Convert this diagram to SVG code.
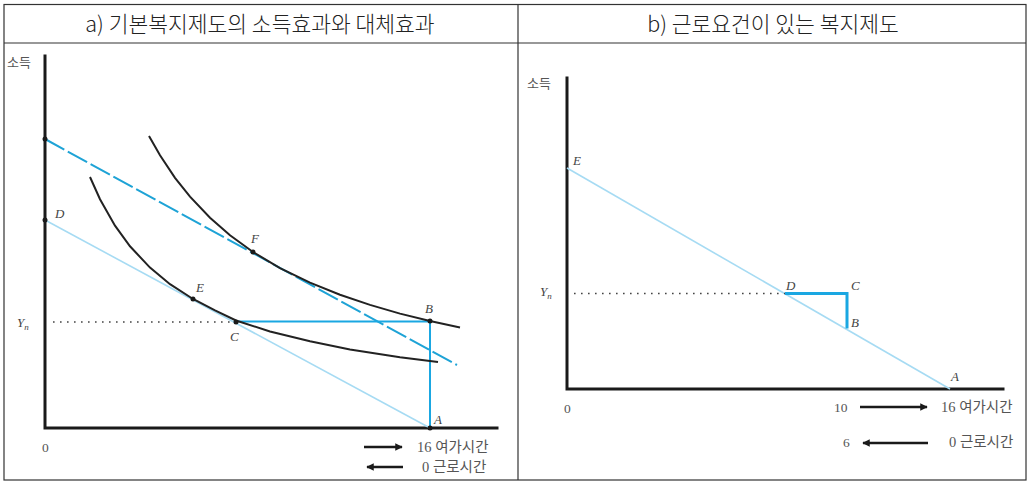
<svg xmlns="http://www.w3.org/2000/svg" width="1029" height="482" viewBox="0 0 1029 482">
<style>
.frame{fill:none;stroke:#333;stroke-width:1.2}
.title{font-family:"Noto Sans CJK KR","Noto Sans",sans-serif;font-size:21.5px;font-weight:300;fill:#222;text-anchor:middle}
.ax{fill:none;stroke:#1a1a1a;stroke-width:3;stroke-linecap:square}
.curve{fill:none;stroke:#222;stroke-width:2}
.bud{fill:none;stroke:#a6dbf3;stroke-width:1.6}
.dash{fill:none;stroke:#1ea3d6;stroke-width:2;stroke-dasharray:22 4}
.blue{fill:none;stroke:#1aa7e2;stroke-width:2}
.blue3{fill:none;stroke:#1aa7e2;stroke-width:3}
.dot{fill:none;stroke:#444;stroke-width:1.6;stroke-dasharray:1.6 5.4}
.pt{fill:#1a1a1a}
.lab{font-family:"Liberation Serif",serif;font-style:italic;font-size:13px;fill:#444}
.num{font-family:"Liberation Serif",serif;font-size:13.5px;fill:#555}
.kr{font-family:"Liberation Serif","Noto Sans CJK KR",serif;font-size:14.5px;fill:#555}
.kr13{font-family:"Noto Sans CJK KR",sans-serif;font-size:13px;fill:#555}
.arr{stroke:#1a1a1a;stroke-width:2.5;fill:none}
</style>
<defs>
<marker id="ah" viewBox="0 0 10 10" refX="9" refY="5" markerWidth="4" markerHeight="3" orient="auto-start-reverse" markerUnits="strokeWidth">
<path d="M0,0 L10,5 L0,10 z" fill="#1a1a1a"/>
</marker>
</defs>
<g id="table">
<rect class="frame" x="4" y="4.5" width="1022" height="475.5"/>
<line class="frame" x1="4" y1="43" x2="1026" y2="43"/>
<line class="frame" x1="518" y1="4.5" x2="518" y2="480"/>
<text class="title" x="260" y="31.5">a) 기본복지제도의 소득효과와 대체효과</text>
<text class="title" x="773" y="31.5">b) 근로요건이 있는 복지제도</text>
</g>
<g id="panel-a">
<g id="axes-a">
<polyline class="ax" points="45,56 45,428 497,428"/>
<text class="kr13" x="7" y="67">소득</text>
<text class="num" x="42" y="452">0</text>
<text class="lab" x="17" y="327">Y<tspan font-size="9" dy="3">n</tspan></text>
</g>
<g id="connectors-a">
<line class="bud" x1="45" y1="220" x2="430" y2="428"/>
<line class="dash" x1="45" y1="139" x2="457" y2="365"/>
<line class="dot" x1="53" y1="322" x2="236" y2="322"/>
<polyline class="blue" points="236,321.5 430,321.5 430,428"/>
<path class="curve" d="M149,136 L160,155.3 L175,177.8 L190,196.7 L210,217.8 L230,235.3 L253,252 L280,268.1 L310,282.7 L340,294.8 L370,304.9 L400,313.6 L430,321 L460,327.4"/>
<path class="curve" d="M90,177 L100,199.2 L115,225.7 L130,246.3 L150,267.6 L170,284.2 L193,299 L215,310.4 L236,320.5 L270,331.5 L310,341.3 L350,349.4 L400,357.2 L438,362"/>
<line class="arr" x1="364" y1="447" x2="402" y2="447" marker-end="url(#ah)"/>
<line class="arr" x1="367" y1="467" x2="403" y2="467" marker-start="url(#ah)"/>
</g>
<g id="node-a-top"><circle class="pt" cx="45" cy="139" r="2.5"/></g>
<g id="node-a-D"><circle class="pt" cx="45" cy="220" r="2.5"/><text class="lab" x="55" y="218">D</text></g>
<g id="node-a-F"><circle class="pt" cx="253" cy="252" r="2.5"/><text class="lab" x="251" y="243">F</text></g>
<g id="node-a-E"><circle class="pt" cx="193" cy="299" r="2.5"/><text class="lab" x="196" y="292">E</text></g>
<g id="node-a-C"><circle class="pt" cx="236" cy="322" r="2.5"/><text class="lab" x="230" y="341">C</text></g>
<g id="node-a-B"><circle class="pt" cx="430" cy="321" r="2.5"/><text class="lab" x="425" y="313">B</text></g>
<g id="node-a-A"><circle class="pt" cx="430" cy="428" r="2.5"/><text class="lab" x="434" y="424">A</text></g>
<g id="legend-a">
<text class="kr" x="417" y="452">16 여가시간</text>
<text class="kr" x="422" y="472">0 근로시간</text>
</g>
</g>
<g id="panel-b">
<g id="axes-b">
<polyline class="ax" points="567,78 567,389 1003,389"/>
<text class="kr13" x="527" y="88">소득</text>
<text class="num" x="564" y="413">0</text>
<text class="lab" x="540" y="296">Y<tspan font-size="9" dy="3">n</tspan></text>
</g>
<g id="connectors-b">
<line class="bud" x1="567" y1="168" x2="950" y2="389"/>
<line class="dot" x1="574" y1="293.5" x2="785" y2="293.5"/>
<polyline class="blue3" points="785,293.5 847,293.5 847,328.5"/>
<line class="arr" x1="860" y1="407" x2="927" y2="407" marker-end="url(#ah)"/>
<line class="arr" x1="863" y1="443" x2="928" y2="443" marker-start="url(#ah)"/>
</g>
<g id="node-b-E"><text class="lab" x="573" y="165">E</text></g>
<g id="node-b-D"><text class="lab" x="786" y="290">D</text></g>
<g id="node-b-C"><text class="lab" x="851" y="290">C</text></g>
<g id="node-b-B"><text class="lab" x="851" y="327">B</text></g>
<g id="node-b-A"><text class="lab" x="951" y="381">A</text></g>
<g id="legend-b">
<text class="num" x="834" y="412">10</text>
<text class="kr" x="941" y="412">16 여가시간</text>
<text class="num" x="843" y="447">6</text>
<text class="kr" x="949" y="447">0 근로시간</text>
</g>
</g>
</svg>
